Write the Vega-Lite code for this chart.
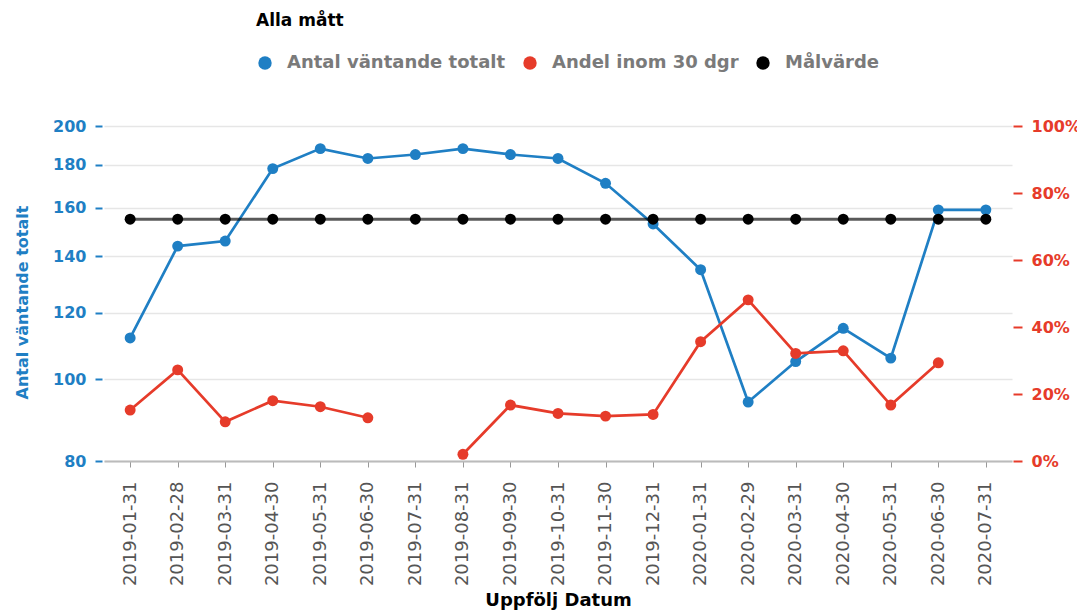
{
  "$schema": "https://vega.github.io/schema/vega-lite/v6.json",
  "width": 908,
  "height": 335,
  "autosize": {"type": "none"},
  "padding": {"left": 104, "top": 126, "right": 65, "bottom": 152},
  "background": "white",
  "config": {
    "font": "DejaVu Sans",
    "view": {"stroke": null},
    "legend": {
      "orient": "none",
      "legendX": 152,
      "legendY": -113,
      "direction": "horizontal",
      "padding": 0,
      "titleFont": "DejaVu Sans",
      "titleFontSize": 17,
      "titleFontWeight": "bold",
      "titleColor": "#000000",
      "titlePadding": 24,
      "labelFont": "DejaVu Sans",
      "labelFontSize": 18,
      "labelFontWeight": "bold",
      "labelColor": "#7a7a7a",
      "labelLimit": 300,
      "labelOffset": 13,
      "columnPadding": 15,
      "symbolType": "circle",
      "symbolSize": 180,
      "symbolStrokeWidth": 0
    }
  },
  "data": {
    "values": [
      {"datum": "2019-01-31", "antal": 112, "andel": 0.152, "malvarde": 155},
      {"datum": "2019-02-28", "antal": 144, "andel": 0.272, "malvarde": 155},
      {"datum": "2019-03-31", "antal": 146, "andel": 0.117, "malvarde": 155},
      {"datum": "2019-04-30", "antal": 178, "andel": 0.180, "malvarde": 155},
      {"datum": "2019-05-31", "antal": 188, "andel": 0.162, "malvarde": 155},
      {"datum": "2019-06-30", "antal": 183, "andel": 0.129, "malvarde": 155},
      {"datum": "2019-07-31", "antal": 185, "andel": null, "malvarde": 155},
      {"datum": "2019-08-31", "antal": 188, "andel": 0.020, "malvarde": 155},
      {"datum": "2019-09-30", "antal": 185, "andel": 0.167, "malvarde": 155},
      {"datum": "2019-10-31", "antal": 183, "andel": 0.142, "malvarde": 155},
      {"datum": "2019-11-30", "antal": 171, "andel": 0.134, "malvarde": 155},
      {"datum": "2019-12-31", "antal": 153, "andel": 0.139, "malvarde": 155},
      {"datum": "2020-01-31", "antal": 135, "andel": 0.356, "malvarde": 155},
      {"datum": "2020-02-29", "antal": 94, "andel": 0.481, "malvarde": 155},
      {"datum": "2020-03-31", "antal": 105, "andel": 0.321, "malvarde": 155},
      {"datum": "2020-04-30", "antal": 115, "andel": 0.329, "malvarde": 155},
      {"datum": "2020-05-31", "antal": 106, "andel": 0.167, "malvarde": 155},
      {"datum": "2020-06-30", "antal": 159, "andel": 0.293, "malvarde": 155},
      {"datum": "2020-07-31", "antal": 159, "andel": null, "malvarde": 155}
    ]
  },
  "encoding": {
    "x": {
      "field": "datum",
      "type": "ordinal",
      "scale": {"type": "point", "padding": 0.55},
      "axis": {
        "title": "Uppfölj Datum",
        "titleFont": "DejaVu Sans",
        "titleFontSize": 18,
        "titleFontWeight": "bold",
        "titleColor": "#000000",
        "titlePadding": 6,
        "labelAngle": 270,
        "labelFont": "DejaVu Sans",
        "labelFontSize": 18,
        "labelColor": "#555555",
        "labelPadding": 14,
        "tickColor": "#999999",
        "tickSize": 6,
        "domainColor": "#bbbbbb",
        "domainWidth": 2,
        "grid": false
      }
    }
  },
  "layer": [
    {
      "layer": [
        {
          "mark": {"type": "point", "filled": true, "size": 120, "opacity": 1},
          "encoding": {
            "y": {
              "field": "antal",
              "type": "quantitative",
              "title": "Antal väntande totalt",
              "scale": {"type": "log", "domain": [80, 200], "nice": false, "zero": false},
              "axis": {
                "values": [80, 100, 120, 140, 160, 180, 200],
                "format": "d",
                "grid": true,
                "gridColor": "#e6e6e6",
                "gridWidth": 1.5,
                "domain": false,
                "offset": 2,
                "tickColor": "#1f7fc4",
                "tickSize": 7,
                "tickWidth": 2,
                "labelColor": "#1f7fc4",
                "labelFont": "DejaVu Sans",
                "labelFontSize": 16,
                "labelFontWeight": "bold",
                "labelPadding": 9,
                "titleColor": "#1f7fc4",
                "titleFont": "DejaVu Sans",
                "titleFontSize": 16,
                "titleFontWeight": "bold",
                "titlePadding": 22,
                "titleY": 176
              }
            },
            "color": {
              "datum": "Antal väntande totalt",
              "title": "Alla mått",
              "scale": {
                "domain": ["Antal väntande totalt", "Andel inom 30 dgr", "Målvärde"],
                "range": ["#1f7fc4", "#e63b2a", "#000000"]
              }
            }
          }
        },
        {
          "mark": {"type": "line", "strokeWidth": 2.7, "invalid": "break-paths-filter-domains"},
          "encoding": {
            "y": {"field": "antal", "type": "quantitative", "title": "Antal väntande totalt"},
            "color": {"datum": "Antal väntande totalt", "title": "Alla mått"}
          }
        },
        {
          "mark": {"type": "line", "strokeWidth": 3, "opacity": 0.65},
          "encoding": {
            "y": {"field": "malvarde", "type": "quantitative", "title": "Antal väntande totalt"},
            "color": {"datum": "Målvärde", "title": "Alla mått"}
          }
        },
        {
          "mark": {"type": "point", "filled": true, "size": 120, "opacity": 1},
          "encoding": {
            "y": {"field": "malvarde", "type": "quantitative", "title": "Antal väntande totalt"},
            "color": {"datum": "Målvärde", "title": "Alla mått"}
          }
        }
      ]
    },
    {
      "layer": [
        {
          "mark": {"type": "line", "strokeWidth": 2.7, "invalid": "break-paths-filter-domains"},
          "encoding": {
            "y": {
              "field": "andel",
              "type": "quantitative",
              "scale": {"domain": [0, 1], "nice": false},
              "axis": {
                "orient": "right",
                "title": null,
                "values": [0, 0.2, 0.4, 0.6, 0.8, 1],
                "format": ".0%",
                "grid": false,
                "domain": false,
                "offset": 1,
                "tickColor": "#e63b2a",
                "tickSize": 9,
                "tickWidth": 2,
                "labelColor": "#e63b2a",
                "labelFont": "DejaVu Sans",
                "labelFontSize": 16,
                "labelFontWeight": "bold",
                "labelPadding": 9
              }
            },
            "color": {"datum": "Andel inom 30 dgr", "title": "Alla mått"}
          }
        },
        {
          "mark": {"type": "point", "filled": true, "size": 120, "opacity": 1},
          "encoding": {
            "y": {"field": "andel", "type": "quantitative"},
            "color": {"datum": "Andel inom 30 dgr", "title": "Alla mått"}
          }
        }
      ]
    }
  ],
  "resolve": {"scale": {"y": "independent"}}
}
